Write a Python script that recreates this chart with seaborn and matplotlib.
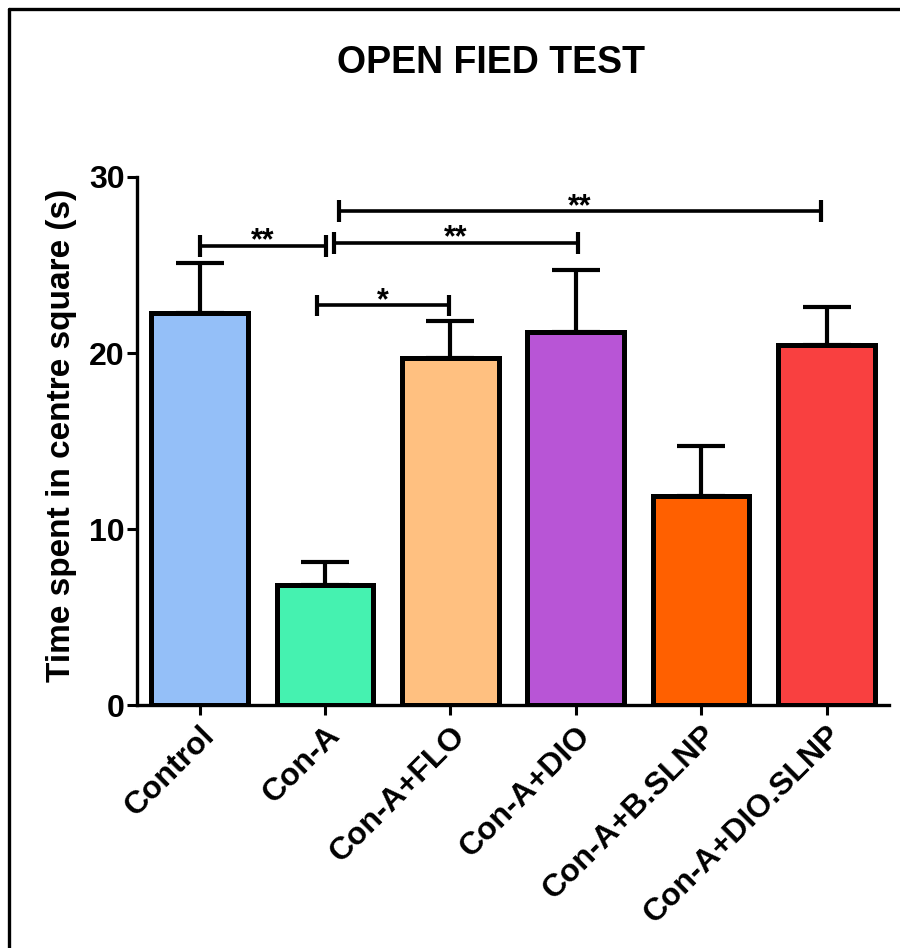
import matplotlib
matplotlib.use("Agg")
import matplotlib.pyplot as plt
import seaborn as sns
import pandas as pd
from matplotlib.lines import Line2D

sns.set_style("white")
plt.rcParams['font.family'] = ['Liberation Sans', 'DejaVu Sans']
plt.rcParams['text.color'] = 'black'
plt.rcParams['axes.labelcolor'] = 'black'
plt.rcParams['xtick.color'] = 'black'
plt.rcParams['ytick.color'] = 'black'

categories = ["Control", "Con-A", "Con-A+FLO", "Con-A+DIO", "Con-A+B.SLNP", "Con-A+DIO.SLNP"]
means = [22.3, 6.8, 19.7, 21.2, 11.9, 20.45]
sem = [2.8, 1.3, 2.1, 3.5, 2.8, 2.15]
colors = ["#94BFF8", "#45F2B0", "#FFC080", "#B855D6", "#FF6000", "#F94040"]

# significance brackets: (x1, x2, y, label)
sig_x1 = [0.0, 1.07, 1.11, 0.94]
sig_x2 = [1.01, 3.02, 4.96, 1.99]
sig_y = [26.1, 26.25, 28.05, 22.7]
sig_lab = ["**", "**", "**", "*"]

df = pd.DataFrame({"group": categories, "value": means})

fig = plt.figure(figsize=(9, 9.48), dpi=100)
ax = fig.add_axes([0.152, 0.2563, 0.836, 0.557])

sns.barplot(data=df, x="group", y="value", hue="group", palette=colors,
            saturation=1, edgecolor="black", linewidth=3.6, width=0.77, legend=False,
            ax=ax, order=categories, hue_order=categories, zorder=3)

xs = list(range(len(categories)))
ax.errorbar(xs, means, yerr=[[0] * len(sem), sem], fmt="none", ecolor="black",
            elinewidth=3.0, capsize=17.5, capthick=3.0, zorder=2, clip_on=False)

ax.set_xlim(-0.5, 5.5)
ax.set_ylim(0, 30)
ax.set_yticks([0, 10, 20, 30])
ax.set_yticklabels(["0", "10", "20", "30"], fontsize=23, fontweight="bold")
ax.set_xticks(xs)
ax.set_xticklabels(categories, rotation=45, ha="right", rotation_mode="anchor",
                   fontsize=23, fontweight="bold")
ax.set_xlabel("")
ax.set_ylabel("Time spent in centre square (s)", fontsize=24, fontweight="bold")
ax.yaxis.label.set_va("center")
ax.yaxis.set_label_coords(-0.1, 0.51)
ax.tick_params(axis="y", direction="out", length=7, width=2.2, left=True, pad=1.5)
ax.tick_params(axis="x", direction="out", length=7, width=2.2, bottom=True, pad=4)

for s in ["top", "right"]:
    ax.spines[s].set_visible(False)
for s in ["left", "bottom"]:
    ax.spines[s].set_linewidth(2.4)
    ax.spines[s].set_color("black")

cap = 0.62
for x1, x2, y, lab in zip(sig_x1, sig_x2, sig_y, sig_lab):
    ax.plot([x1, x2], [y, y], color="black", lw=2.6, clip_on=False, solid_capstyle="butt")
    ax.plot([x1, x1], [y - cap, y + cap], color="black", lw=3.0, clip_on=False, solid_capstyle="butt")
    ax.plot([x2, x2], [y - cap, y + cap], color="black", lw=3.0, clip_on=False, solid_capstyle="butt")
    ax.text((x1 + x2) / 2, y - 0.6, lab, ha="center", va="bottom", fontsize=22,
            fontweight="bold")

fig.text(0.545, 0.934, "OPEN FIED TEST", ha="center", va="center", fontsize=27,
         fontweight="bold")

# figure frame (left and top edges)
fig.add_artist(Line2D([0.0105, 0.0105], [0, 0.991], transform=fig.transFigure,
                      color="black", lw=2.4))
fig.add_artist(Line2D([0.0105, 1.0], [0.991, 0.991], transform=fig.transFigure,
                      color="black", lw=2.4))

fig.savefig("out.png", dpi=100)
